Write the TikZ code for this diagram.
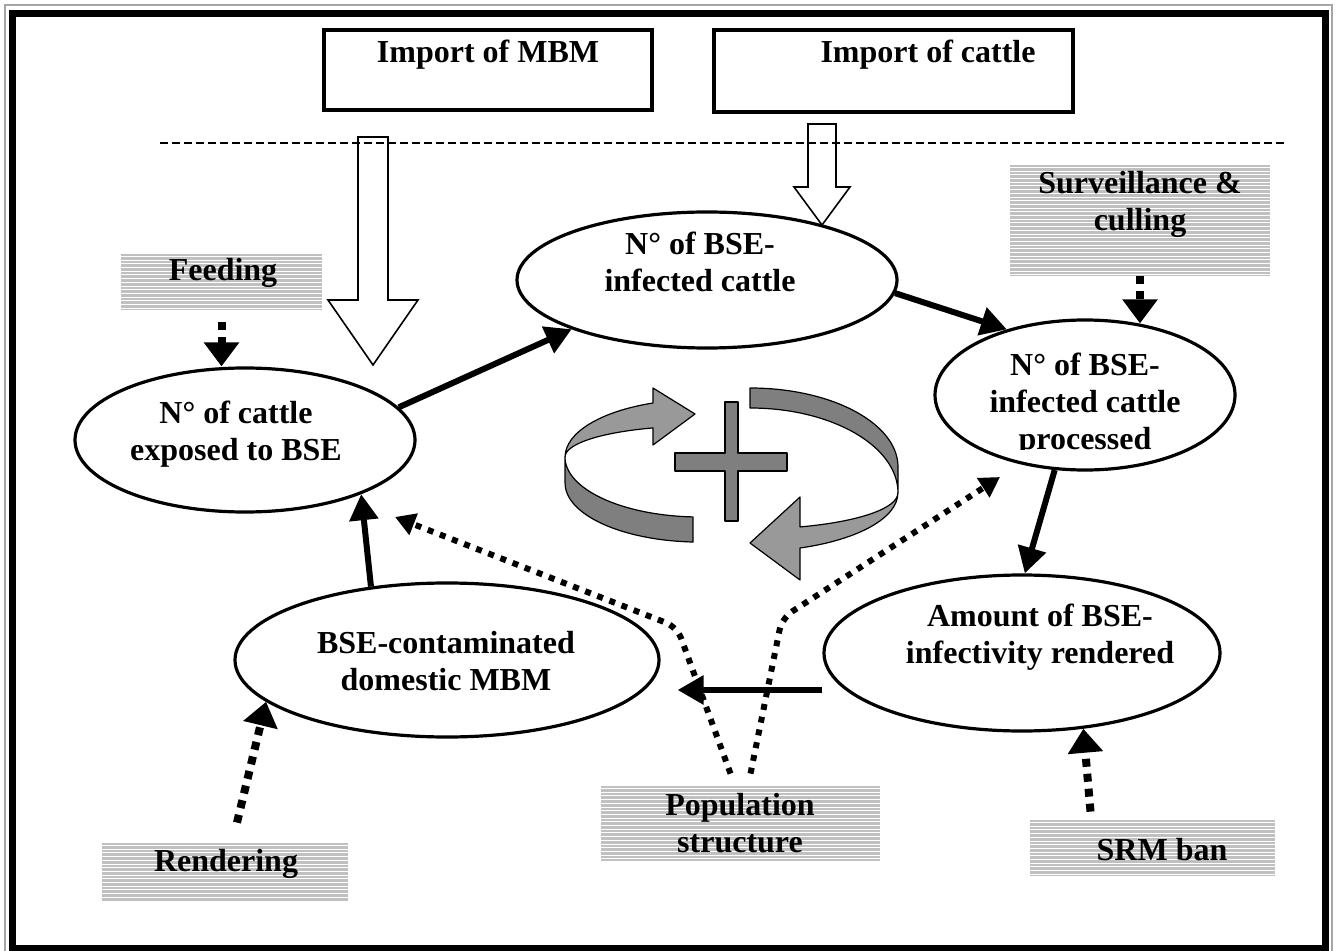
\documentclass[tikz,border=0pt]{standalone}
\usepackage{fontspec}
\setmainfont{Liberation Serif}
\usetikzlibrary{shapes.geometric,arrows.meta,positioning}

\definecolor{stripegray}{HTML}{C0C0C0}
\definecolor{bandgray}{HTML}{7F7F7F}
\definecolor{facegray}{HTML}{999999}

\tikzset{oval/.style = {shape = ellipse,
                        draw,
                        line width = 1.6pt,
                        inner sep = 0pt},
         lbl/.style = {font = \fontsize{16}{18.5}\selectfont\bfseries,
                       align = center,
                       inner sep = 0pt},
         hatch/.style = {fill = stripegray,
                         inner sep = 0pt,
                         path picture = {\foreach \k in {1,...,60}
                           \draw[white, line width = 0.5pt]
                             ([yshift = -\k*1.85pt + 0.6pt]path picture bounding box.north west) --
                             ([yshift = -\k*1.85pt + 0.6pt]path picture bounding box.north east);}},
         topbox/.style = {draw, line width = 2pt, inner sep = 0pt},
         hollow/.style = {draw, fill = white, line width = 0.8pt},
         flow/.style = {line width = 3pt, -{Triangle[length = 13pt, width = 14pt]}},
         policy/.style = {line width = 4pt, dash pattern = on 4pt off 3.5pt,
                          -{Triangle[length = 12pt, width = 17pt]}},
         popline/.style = {line width = 3pt, dash pattern = on 3pt off 3.5pt,
                           rounded corners = 6pt,
                           -{Triangle[length = 10pt, width = 11pt]}},
         band/.style = {draw, line width = 0.6pt, line join = round}}

% x, top, head start, tip, shaft half width, head half width
\newcommand{\hollowarrow}[6]{%
  \draw[hollow] (#1-#5,#2) -- (#1+#5,#2) -- (#1+#5,#3) -- (#1+#6,#3)
    -- (#1,#4) -- (#1-#6,#3) -- (#1-#5,#3) -- cycle;}

\begin{document}
\begin{tikzpicture}[x = 0.5pt, y = -0.5pt]
  \useasboundingbox (0,0) rectangle (1336,951);
  % frame
  \draw[black!35, line width = 0.6pt] (5,5) rectangle (1332,960);
  \draw[line width = 3.5pt] (12.5,13.5) rectangle (1325,948);

  % imports
  \node[topbox, minimum width = 164pt, minimum height = 40pt] (mbm) at (488,70) {};
  \node[lbl] at (488,55) {Import of MBM};
  \node[topbox, minimum width = 179.5pt, minimum height = 41pt] (cattle) at (893.5,71) {};
  \node[lbl] at (928,55) {Import of cattle};
  \hollowarrow{373}{137}{300}{365}{15}{45}
  \hollowarrow{822}{124}{187}{225}{14}{28}
  \coordinate (borderW) at (160,143);
  \coordinate (borderE) at (1285,143);
  \draw[line width = 0.6pt, dash pattern = on 4pt off 2pt] (borderW) -- (borderE);

  % states
  \node[oval, minimum width = 170pt, minimum height = 72pt] (exposed) at (245,440) {};
  \node[lbl] at (236,434) {N° of cattle\\exposed to BSE};
  \node[oval, minimum width = 190pt, minimum height = 68pt] (infected) at (707,280) {};
  \node[lbl] at (700,262) {N° of BSE-\\infected cattle};
  \node[oval, minimum width = 150pt, minimum height = 75pt] (processed) at (1085,395) {};
  \begin{scope}
    \clip (930,300) rectangle (1240,449);
    \node[lbl] at (1085,405) {N° of BSE-\\infected cattle\\processed};
  \end{scope}
  \node[oval, minimum width = 212pt, minimum height = 77pt] (domestic) at (447,660) {};
  \node[lbl] at (446,661) {BSE-contaminated\\domestic MBM};
  \node[oval, minimum width = 198pt, minimum height = 78pt] (amount) at (1022,653) {};
  \node[lbl] at (1040,637) {Amount of BSE-\\infectivity rendered};

  % measures
  \node[hatch, minimum width = 100.5pt, minimum height = 28pt] (feed) at (221.5,282) {};
  \node[lbl] at (223,273) {Feeding};
  \node[hatch, minimum width = 130pt, minimum height = 55.5pt] (surv) at (1140,220.5) {};
  \node[lbl] at (1140,204) {Surveillance \&\\culling};
  \node[hatch, minimum width = 139.5pt, minimum height = 37.5pt] (pop) at (740.5,823.5) {};
  \node[lbl] at (740,823.5) {Population\\structure};
  \node[hatch, minimum width = 123pt, minimum height = 29pt] (render) at (225,872) {};
  \node[lbl] at (226,864) {Rendering};
  \node[hatch, minimum width = 122.5pt, minimum height = 28pt] (srm) at (1152.5,848) {};
  \node[lbl] at (1162,850) {SRM ban};

  % cycle
  \path[band, fill = bandgray] (565,457) arc[start angle = 180, end angle = 93, x radius = 135, y radius = 60]
    -- (693,542) arc[start angle = 93, end angle = 180, x radius = 135, y radius = 59] -- cycle;
  \path[band, fill = facegray] (653,428) -- (653,445) -- (695,414) -- (653,388) -- (653,403)
    arc[start angle = 249.6, end angle = 180, x radius = 135, y radius = 57.6]
    arc[start angle = 180, end angle = 249.6, x radius = 135, y radius = 31] -- cycle;
  \path[band, fill = bandgray] (750,388) arc[start angle = 270, end angle = 360, x radius = 148, y radius = 79]
    -- (898,493) arc[start angle = 0, end angle = -90, x radius = 148, y radius = 85] -- cycle;
  \path[band, fill = facegray] (800,527) -- (800,497) -- (750,543) -- (800,580) -- (800,548)
    arc[start angle = 70.2, end angle = 0, x radius = 148, y radius = 58.4]
    arc[start angle = 0, end angle = 70.2, x radius = 148, y radius = 36] -- cycle;
  \path[band, fill = bandgray] (725,402) -- (738,402) -- (738,453) -- (787,453) -- (787,471)
    -- (738,471) -- (738,521) -- (725,521) -- (725,471) -- (675,471) -- (675,453) -- (725,453) -- cycle;

  % links
  \draw[policy] ([yshift = -6pt]feed.south) -- (feed.south |- exposed.north);
  \draw[flow] (exposed.12) -- (infected.200);
  \draw[flow] (infected.-4) -- (processed.140);
  \draw[policy, shorten > = -2.5pt] (surv.south) -- (surv.south |- processed.north);
  \draw[flow] (processed.-112) -- (amount.88);
  \draw[flow] ([yshift = -18.5pt]amount.west) -- ([shift = {(8.5pt,-15pt)}]domestic.east);
  \draw[flow] (domestic.136) -- (exposed.-25);
  \draw[policy] ([xshift = 6pt, yshift = 10pt]render.north) -- (domestic.193);
  \draw[policy] ([xshift = -31pt, yshift = 4pt]srm.north) -- (amount.-51);
  \coordinate (popL) at (395,517);
  \coordinate (popR) at (1000,477);
  \draw[popline] ([xshift = -5pt, yshift = 6pt]pop.north) -- (677,627) -- (popL);
  \draw[popline] ([xshift = 5pt, yshift = 6pt]pop.north) -- (782,618) -- (popR);
\end{tikzpicture}
\end{document}
